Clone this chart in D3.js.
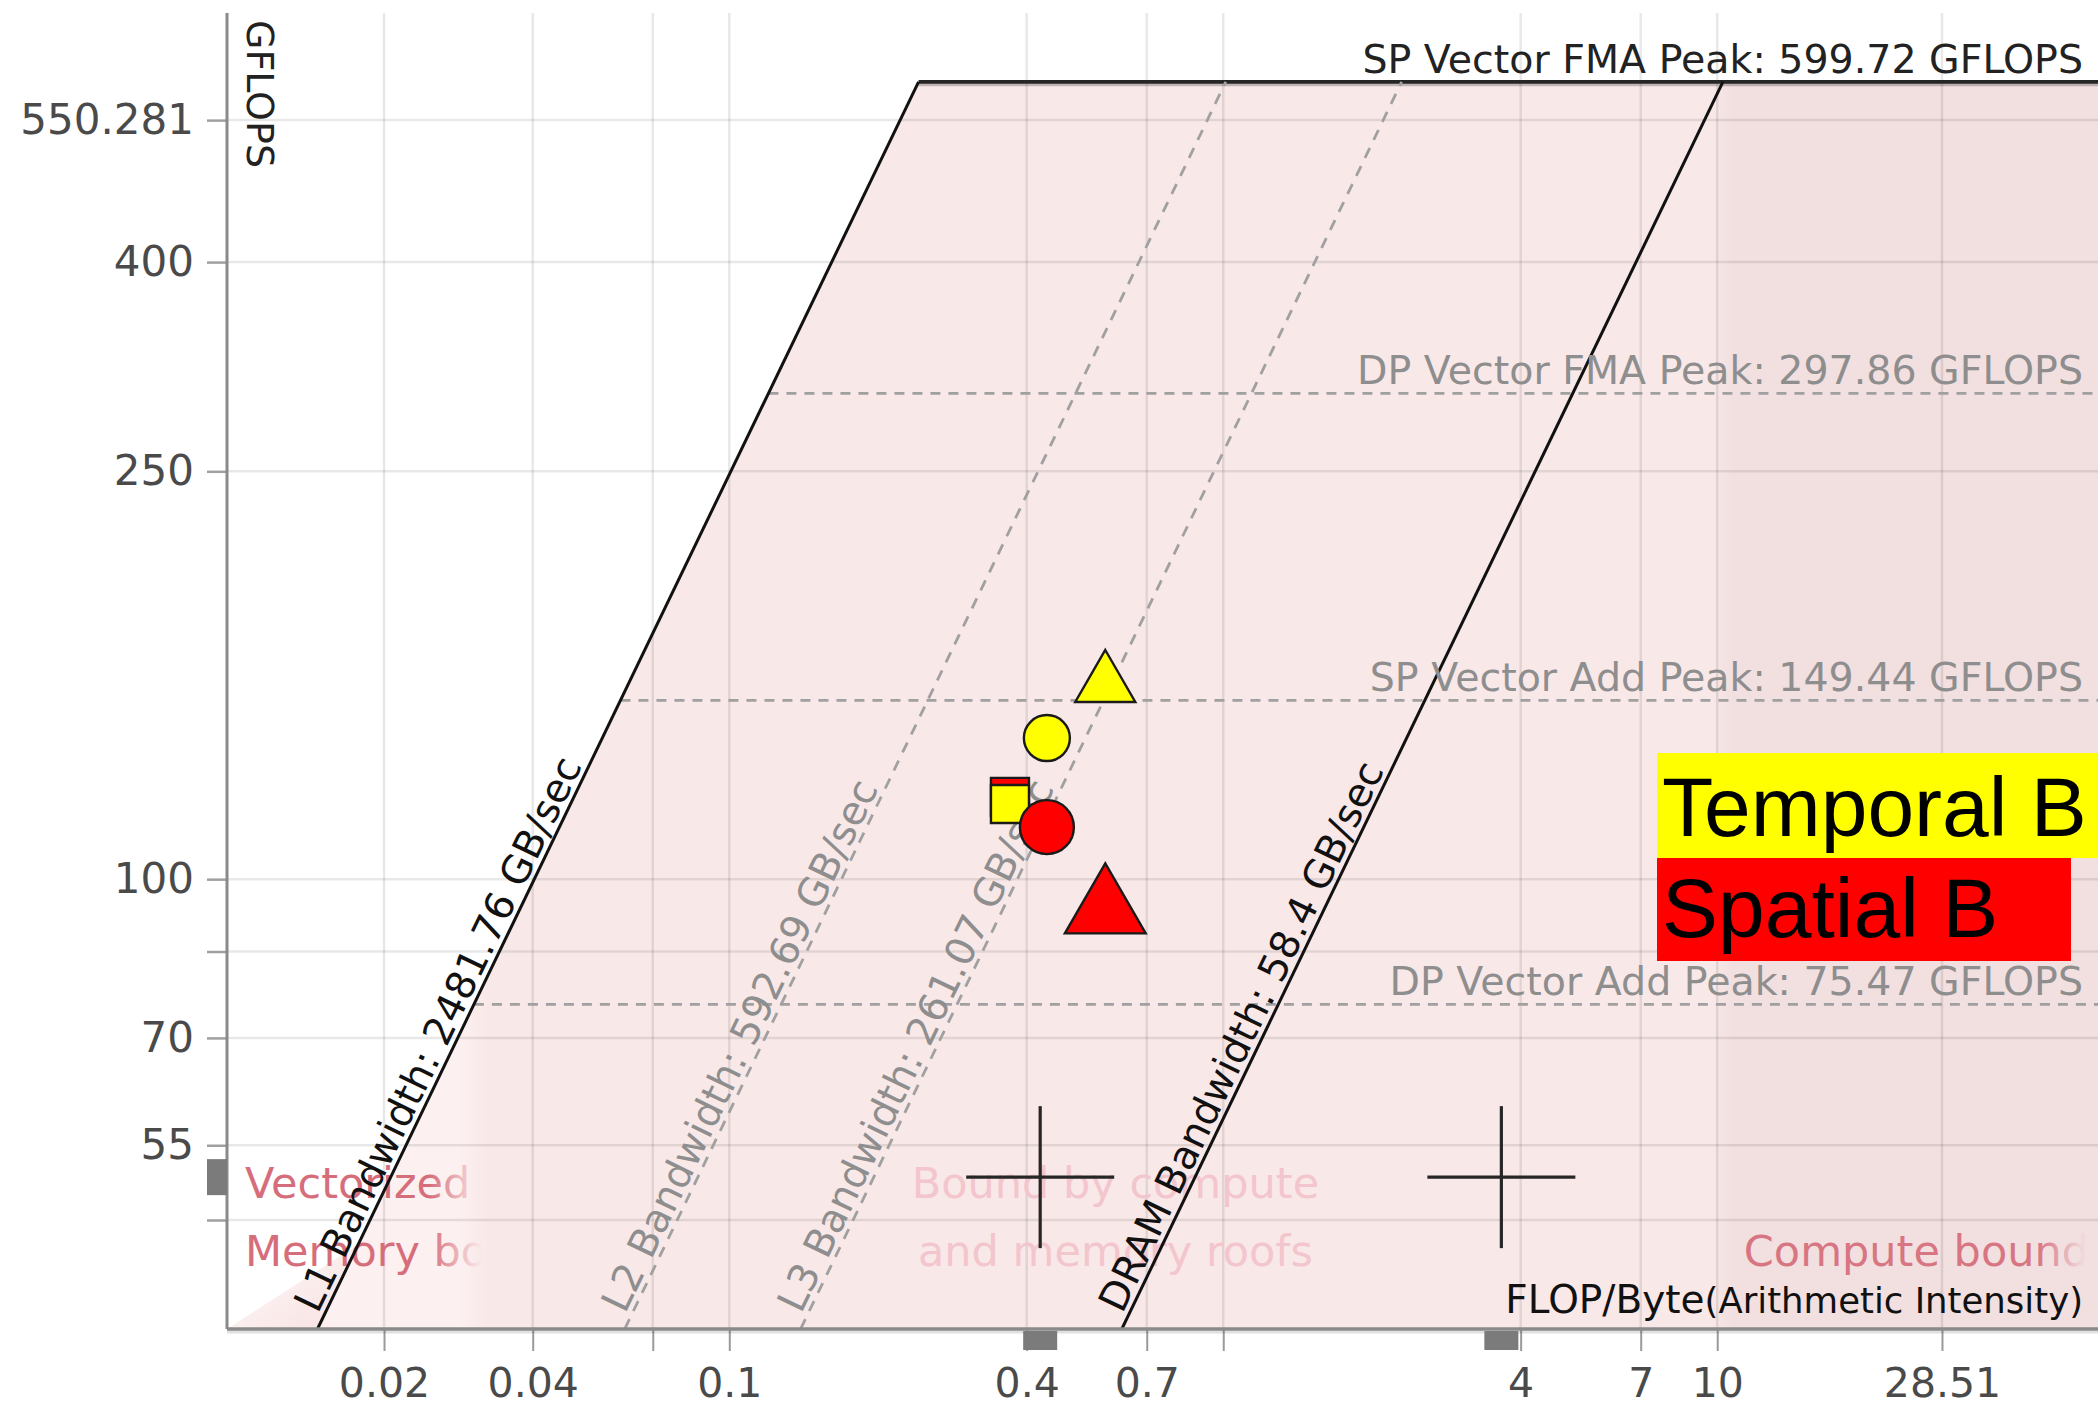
<!DOCTYPE html>
<html>
<head>
<meta charset="utf-8">
<script src="https://cdn.jsdelivr.net/npm/d3@7"></script>
<style>
  html, body { margin: 0; padding: 0; background: #ffffff; }
  svg { display: block; font-family: "DejaVu Sans", sans-serif; }
</style>
</head>
<body>
<svg id="chart" width="2098" height="1406"></svg>
<script>
// ---- Axis ticks -------------------------------------------------------
const xTicks = [0.02, 0.04, 0.07, 0.1, 0.4, 0.7, 1, 4, 7, 10, 28.51];
const xTickLabels = ["0.02", "0.04", "", "0.1", "0.4", "0.7", "", "4", "7", "10", "28.51"];
const yTicks = [550.281, 400, 250, 100, 85, 70, 55, 46.5];
const yTickLabels = ["550.281", "400", "250", "100", "", "70", "55", ""];

// ---- Compute roofs (GFLOPS) ------------------------------------------
const computeRoofNames = ["SP Vector FMA Peak", "DP Vector FMA Peak", "SP Vector Add Peak", "DP Vector Add Peak"];
const computePeaks = [599.72, 297.86, 149.44, 75.47];

// ---- Memory roofs (GB/sec) -------------------------------------------
const memoryRoofNames = ["L1 Bandwidth", "L2 Bandwidth", "L3 Bandwidth", "DRAM Bandwidth"];
const memoryBandwidths = [2481.76, 592.69, 261.07, 58.4];

// ---- Loops: arithmetic intensity (FLOP/Byte) and performance (GFLOPS) --
const seriesNames = ["Temporal B", "Spatial B"];
const loopShapes = ["square", "circle", "triangle"];
const temporalAI = [0.370, 0.4395, 0.577];
const temporalGflops = [118.4, 137.3, 154.8];
const spatialAI = [0.370, 0.4395, 0.577];
const spatialGflops = [120.3, 112.4, 93.3];

// ---- Cursor crosshairs -------------------------------------------------
const cursorAI = [0.426, 3.656];
const cursorGflops = [51.2, 51.2];

// ---- Layout & styles ---------------------------------------------------
const plot = { left: 227, right: 2098, top: 13, bottom: 1329 };
const xDomain = [0.00962, 59.0];
const yDomain = [36.4, 700];

const seriesFill = { "Temporal B": "#ffff00", "Spatial B": "#ff0000" };
const markerArea = {
  "Temporal B": { square: 1444, circle: 1662, triangle: 1561 },
  "Spatial B":  { square: 1444, circle: 2290, triangle: 2829 }
};
const shapeSymbol = { square: d3.symbolSquare, circle: d3.symbolCircle, triangle: d3.symbolTriangle };

const x = d3.scaleLog().domain(xDomain).range([plot.left, plot.right]);
const y = d3.scaleLog().domain(yDomain).range([plot.bottom, plot.top]);

const svg = d3.select("#chart");
const defs = svg.append("defs");

// roofline polygon (area beneath the highest memory roof and highest compute roof)
const topPeak = d3.max(computePeaks);
const topBW = d3.max(memoryBandwidths);
const lowPeak = d3.min(computePeaks);
const lowBW = d3.min(memoryBandwidths);
const yMin = yDomain[0], xMax = xDomain[1], xMin = xDomain[0];

const roofPoly = [
  [yMin / topBW, yMin],
  [topPeak / topBW, topPeak],
  [xMax, topPeak],
  [xMax, yMin]
];
defs.append("clipPath").attr("id", "roofClip")
  .append("path")
  .attr("d", d3.line().x(d => x(d[0])).y(d => y(d[1]))(roofPoly) + "Z");

defs.append("clipPath").attr("id", "plotClip")
  .append("rect")
  .attr("x", plot.left).attr("y", plot.top)
  .attr("width", plot.right - plot.left).attr("height", plot.bottom - plot.top);

// zone boundaries: memory bound | bound by compute and memory | compute bound
const zoneA = x(lowPeak / topBW);
const zoneB = x(topPeak / lowBW);
const span = plot.right - plot.left;
const off = v => Math.max(0, Math.min(1, (v - plot.left) / span));
const zoneGrad = defs.append("linearGradient").attr("id", "zoneGrad")
  .attr("gradientUnits", "userSpaceOnUse")
  .attr("x1", plot.left).attr("x2", plot.right).attr("y1", 0).attr("y2", 0);
[
  [0, "#fcf0f0"], [off(zoneA - 14), "#fcf0f0"], [off(zoneA + 14), "#f9e8e8"],
  [off(zoneB - 10), "#f9e8e8"], [off(zoneB + 10), "#f2dfe0"], [1, "#f2dfe0"]
].forEach(([o, c]) => zoneGrad.append("stop").attr("offset", o).attr("stop-color", c));

const cornerGrad = defs.append("linearGradient").attr("id", "cornerGrad")
  .attr("gradientUnits", "userSpaceOnUse")
  .attr("x1", x(yMin / topBW)).attr("y1", plot.bottom)
  .attr("x2", plot.left + 10).attr("y2", plot.bottom - 110);
cornerGrad.append("stop").attr("offset", 0).attr("stop-color", "#f9e4e4");
cornerGrad.append("stop").attr("offset", 1).attr("stop-color", "#ffffff");

function fadeGrad(id, color, x1, x2) {
  const g = defs.append("linearGradient").attr("id", id)
    .attr("gradientUnits", "userSpaceOnUse")
    .attr("x1", x1).attr("x2", x2).attr("y1", 0).attr("y2", 0);
  g.append("stop").attr("offset", 0).attr("stop-color", color).attr("stop-opacity", 1);
  g.append("stop").attr("offset", 1).attr("stop-color", color).attr("stop-opacity", 0);
}
fadeGrad("fadeMem", "#d66d7a", zoneA - 45, zoneA + 8);
fadeGrad("fadeCompute", "#d87582", plot.right - 60, plot.right - 12);

// ---- zone fills --------------------------------------------------------
svg.append("rect")
  .attr("x", plot.left).attr("y", plot.top)
  .attr("width", span).attr("height", plot.bottom - plot.top)
  .attr("fill", "url(#zoneGrad)")
  .attr("clip-path", "url(#roofClip)");

// pale wash left of the L1 roof near the floor
const cornerPoly = [[xMin, yMin], [yMin / topBW, yMin], [44 / topBW, 44]];
svg.append("path")
  .attr("d", d3.line().x(d => x(d[0])).y(d => y(d[1]))(cornerPoly) + "Z")
  .attr("fill", "url(#cornerGrad)");

// ---- grid --------------------------------------------------------------
const grid = svg.append("g").attr("stroke", "rgba(0,0,0,0.09)").attr("stroke-width", 2.5);
grid.selectAll(".vg").data(xTicks).join("line")
  .attr("x1", d => x(d)).attr("x2", d => x(d))
  .attr("y1", plot.top).attr("y2", plot.bottom);
grid.selectAll(".hg").data(yTicks).join("line")
  .attr("x1", plot.left).attr("x2", plot.right)
  .attr("y1", d => y(d)).attr("y2", d => y(d));

// ---- zone captions ------------------------------------------------------
const captions = svg.append("g").attr("font-size", 43);
const midCaptionX = (zoneA + zoneB) / 2 + 17;
captions.append("text").attr("x", 245).attr("y", 1198).attr("fill", "url(#fadeMem)").text("Vectorized");
captions.append("text").attr("x", 245).attr("y", 1266).attr("fill", "url(#fadeMem)").text("Memory bound");
captions.append("text").attr("x", midCaptionX).attr("y", 1198)
  .attr("text-anchor", "middle").attr("fill", "#f3c5cc").text("Bound by compute");
captions.append("text").attr("x", midCaptionX).attr("y", 1266)
  .attr("text-anchor", "middle").attr("fill", "#f3c5cc").text("and memory roofs");
captions.append("text").attr("x", plot.right - 9).attr("y", 1266)
  .attr("text-anchor", "end").attr("fill", "url(#fadeCompute)").text("Compute bound");

// ---- roofs ---------------------------------------------------------------
const roofs = svg.append("g").attr("clip-path", "url(#plotClip)");
const dashColor = "#a0a0a0";

// compute roofs: horizontal, starting at the L1 roof
computePeaks.forEach((p, i) => {
  const x0 = x(p / topBW), yy = y(p);
  if (i === 0) {
    roofs.append("line").attr("x1", x0).attr("x2", plot.right)
      .attr("y1", yy + 2.5).attr("y2", yy + 2.5)
      .attr("stroke", "rgba(0,0,0,0.22)").attr("stroke-width", 4);
    roofs.append("line").attr("x1", x0).attr("x2", plot.right)
      .attr("y1", yy).attr("y2", yy)
      .attr("stroke", "#262626").attr("stroke-width", 3.8);
  } else {
    roofs.append("line").attr("x1", x0).attr("x2", plot.right)
      .attr("y1", yy).attr("y2", yy)
      .attr("stroke", dashColor).attr("stroke-width", 2.8)
      .attr("stroke-dasharray", "10 8");
  }
});

// memory roofs: diagonal, from the floor up to the top compute roof
memoryBandwidths.forEach((bw, i) => {
  const solid = (i === 0 || i === memoryBandwidths.length - 1);
  roofs.append("line")
    .attr("x1", x(yMin / bw)).attr("y1", y(yMin))
    .attr("x2", x(topPeak / bw)).attr("y2", y(topPeak))
    .attr("stroke", solid ? "#111" : dashColor)
    .attr("stroke-width", solid ? 3 : 2.8)
    .attr("stroke-dasharray", solid ? null : "11 9");
});

// ---- roof labels -------------------------------------------------------
const roofLabels = svg.append("g").attr("font-size", 39.5);
computePeaks.forEach((p, i) => {
  roofLabels.append("text")
    .attr("x", 2083).attr("y", y(p) - 9)
    .attr("text-anchor", "end")
    .attr("fill", i === 0 ? "#222" : "#8e8e8e")
    .text(`${computeRoofNames[i]}: ${p} GFLOPS`);
});

memoryBandwidths.forEach((bw, i) => {
  const solid = (i === 0 || i === memoryBandwidths.length - 1);
  const gStart = y.invert(plot.bottom - 12);
  const px = x(gStart / bw), py = y(gStart);
  const ang = Math.atan2(y(topPeak) - y(yMin), x(topPeak / bw) - x(yMin / bw)) * 180 / Math.PI;
  roofLabels.append("text")
    .attr("transform", `translate(${px},${py}) rotate(${ang})`)
    .attr("y", -6)
    .attr("fill", solid ? "#111" : "#8e8e8e")
    .text(`${memoryRoofNames[i]}: ${bw} GB/sec`);
});

// ---- cursor crosshairs ----------------------------------------------------
const cursors = d3.range(cursorAI.length).map(i => ({ ai: cursorAI[i], g: cursorGflops[i] }));
const cross = svg.append("g").attr("stroke", "#262626").attr("stroke-width", 3.2);
cursors.forEach(c => {
  const cx = x(c.ai), cy = y(c.g);
  cross.append("line").attr("x1", cx - 74).attr("x2", cx + 74).attr("y1", cy).attr("y2", cy);
  cross.append("line").attr("x1", cx).attr("x2", cx).attr("y1", cy - 71).attr("y2", cy + 71);
});

// ---- loop markers --------------------------------------------------------
const loops = [];
loopShapes.forEach((s, i) => {
  loops.push({ series: "Spatial B", shape: s, ai: spatialAI[i], g: spatialGflops[i] });
  loops.push({ series: "Temporal B", shape: s, ai: temporalAI[i], g: temporalGflops[i] });
});
// squares sit underneath; the spatial circle overlaps the temporal square
const pick = (s, sh) => loops.find(d => d.series === s && d.shape === sh);
const ordered = [
  pick("Spatial B", "square"),
  pick("Temporal B", "square"),
  pick("Temporal B", "circle"),
  pick("Temporal B", "triangle"),
  pick("Spatial B", "circle"),
  pick("Spatial B", "triangle")
];
svg.append("g").selectAll("path").data(ordered).join("path")
  .attr("transform", d => `translate(${x(d.ai)},${y(d.g)})`)
  .attr("d", d => d3.symbol().type(shapeSymbol[d.shape]).size(markerArea[d.series][d.shape])())
  .attr("fill", d => seriesFill[d.series])
  .attr("stroke", "#1a1a1a").attr("stroke-width", 2.4);

// ---- axes ------------------------------------------------------------------
const xAxis = d3.axisBottom(x).tickValues(xTicks)
  .tickFormat((d, i) => xTickLabels[i]).tickSize(22).tickSizeOuter(0).tickPadding(17);
const gx = svg.append("g").attr("transform", `translate(0,${plot.bottom})`).call(xAxis);
gx.select(".domain").remove();
gx.selectAll(".tick line").attr("stroke", "#9a9a9a").attr("stroke-width", 2);
gx.selectAll(".tick text").attr("font-size", 41).attr("fill", "#4a4a4a")
  .attr("font-family", "DejaVu Sans");

const yAxis = d3.axisLeft(y).tickValues(yTicks)
  .tickFormat((d, i) => yTickLabels[i]).tickSize(20).tickSizeOuter(0).tickPadding(13);
const gy = svg.append("g").attr("transform", `translate(${plot.left},0)`).call(yAxis);
gy.select(".domain").remove();
gy.selectAll(".tick line").attr("stroke", "#a0a0a0").attr("stroke-width", 2.5);
gy.selectAll(".tick text").attr("font-size", 42).attr("fill", "#4a4a4a")
  .attr("font-family", "DejaVu Sans");

// axis lines
svg.append("line").attr("x1", plot.left).attr("x2", plot.right)
  .attr("y1", plot.bottom + 3).attr("y2", plot.bottom + 3)
  .attr("stroke", "rgba(0,0,0,0.12)").attr("stroke-width", 3);
svg.append("line").attr("x1", plot.left).attr("x2", plot.right)
  .attr("y1", plot.bottom).attr("y2", plot.bottom)
  .attr("stroke", "#8a8a8a").attr("stroke-width", 3.5);
svg.append("line").attr("x1", plot.left).attr("x2", plot.left)
  .attr("y1", plot.top).attr("y2", plot.bottom)
  .attr("stroke", "#8a8a8a").attr("stroke-width", 3);

// cursor projections on the axes
cursors.forEach(c => {
  svg.append("rect").attr("x", x(c.ai) - 17).attr("y", plot.bottom + 2)
    .attr("width", 34).attr("height", 19).attr("fill", "#7b7b7b");
});
svg.append("rect").attr("x", plot.left - 20).attr("y", y(cursors[0].g) - 18)
  .attr("width", 20).attr("height", 36).attr("fill", "#7b7b7b");

// axis titles
svg.append("text")
  .attr("transform", `translate(247,20) rotate(90)`)
  .attr("font-size", 38).attr("fill", "#222").text("GFLOPS");
const xt = svg.append("text").attr("x", 2083).attr("y", 1313)
  .attr("text-anchor", "end").attr("fill", "#111");
xt.append("tspan").attr("font-size", 39).text("FLOP/Byte");
xt.append("tspan").attr("font-size", 35.5).text("(Arithmetic Intensity)");

// ---- legend ------------------------------------------------------------------
const legend = svg.append("g").attr("font-family", "Liberation Sans, Arial, sans-serif");
const legendBoxes = [
  { name: seriesNames[0], x: 1657, y: 753, w: 441, h: 105, base: 836 },
  { name: seriesNames[1], x: 1657, y: 858, w: 414, h: 103, base: 937 }
];
legendBoxes.forEach(b => {
  legend.append("rect").attr("x", b.x).attr("y", b.y).attr("width", b.w).attr("height", b.h)
    .attr("fill", seriesFill[b.name]);
  legend.append("text").attr("x", b.x + 5).attr("y", b.base)
    .attr("font-size", 84).attr("fill", "#000").text(b.name);
});
</script>
</body>
</html>
